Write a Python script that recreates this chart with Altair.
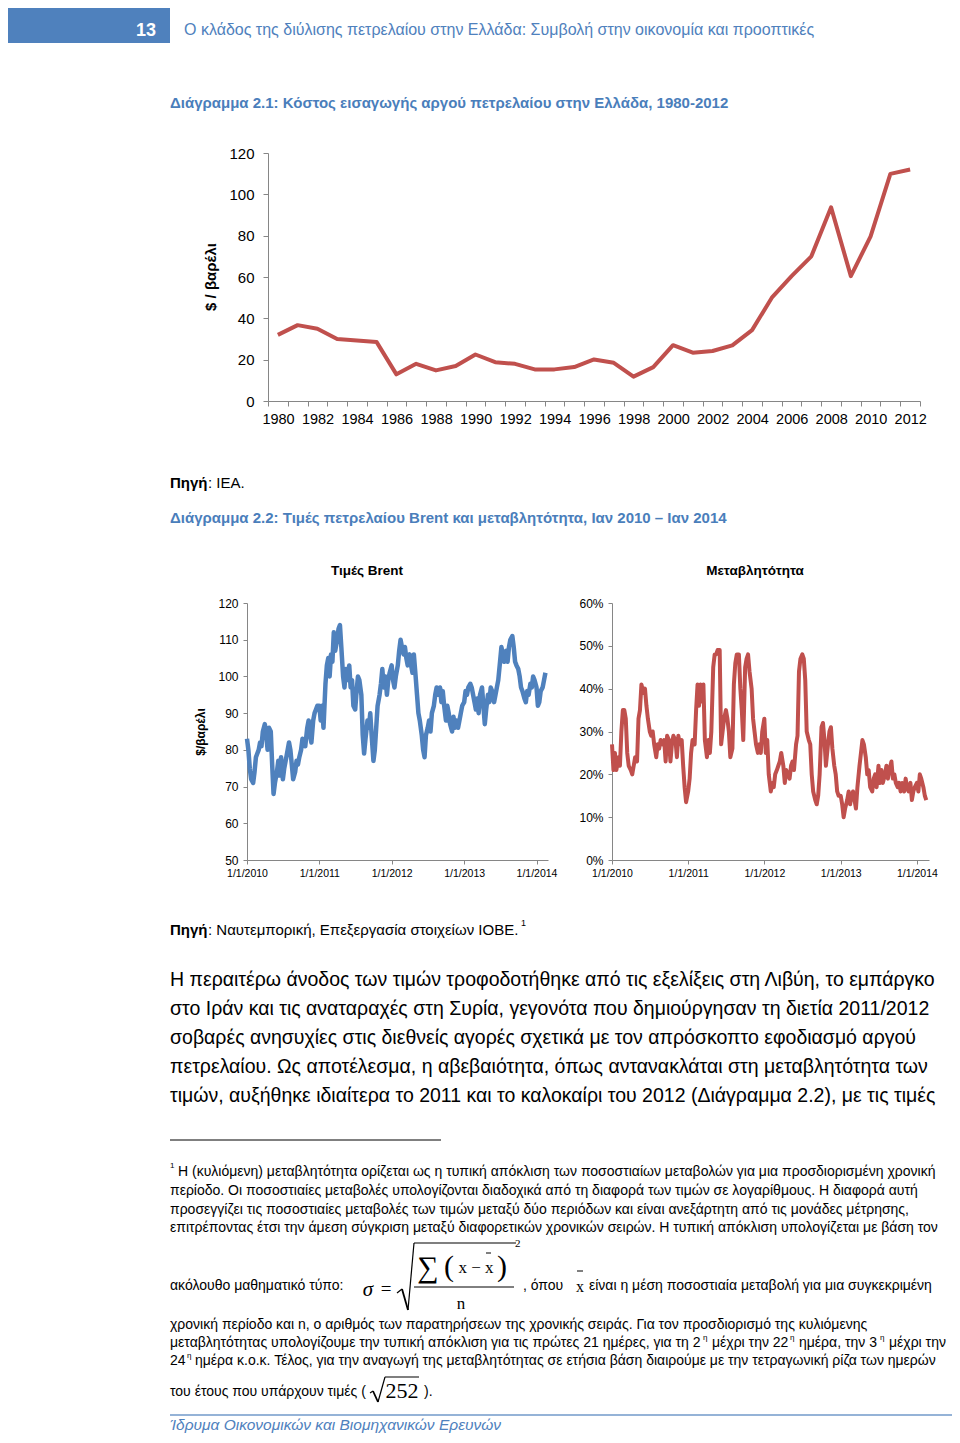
import altair as alt
import pandas as pd

W, H = 944, 1427


def cx(v):
    return v - 8


def cy(v):
    return v - 8


FONT = "Liberation Sans"
SERIF = "Liberation Serif"
BLUE = "#4F81BD"
TBLUE = "#4A7EBB"
RED = "#C0504D"
AXIS = "#868686"

# ---------------- data ----------------
years = list(range(1980, 2013))
import_cost = [32, 36.7, 35, 30, 29.3, 28.5, 12.9, 18, 14.8, 16.9, 22.5, 18.8,
               18, 15.3, 15.3, 16.4, 20.1, 18.5, 11.8, 16.4, 27, 23.4, 24.2,
               26.9, 34.3, 50, 60.4, 70, 93.7, 60.4, 79.7, 109.9, 112]

# Brent price, $/barrel, ~weekly readings, one row per month (Jan 2010 - Feb 2014)
brent = [
    [83, 80, 75, 72], [71, 74, 78, 79], [80, 82, 81, 85], [87, 84, 80, 86],
    [85, 76, 68, 71], [74, 77, 73, 78], [72, 75, 77, 79], [82, 80, 76, 72],
    [74, 77, 76, 78], [80, 83, 82, 81], [86, 88, 84, 82], [88, 90, 91, 92],
    [92, 88, 92, 86], [98, 103, 105, 100], [106, 104, 112, 107], [110, 113, 114, 108],
    [100, 97, 102, 99], [103, 97, 99, 92], [91, 96, 100, 99], [95, 84, 79, 83],
    [88, 86, 90, 84], [77, 80, 86, 92], [95, 98, 102, 97], [100, 95, 99, 101],
    [103, 99, 97, 100], [103, 107, 110, 108], [106, 108, 105, 103], [106, 103, 101, 106],
    [100, 95, 90, 88], [84, 80, 78, 84], [86, 88, 85, 90], [92, 95, 97, 95],
    [97, 93, 96, 92], [88, 92, 90, 87], [85, 89, 86, 88], [86, 88, 90, 92],
    [93, 96, 95, 97], [98, 97, 95, 93], [91, 94, 90, 95], [97, 92, 87, 91],
    [95, 93, 97, 96], [93, 95, 97, 99], [104, 108, 106, 104], [107, 104, 108, 110],
    [111, 108, 104, 103], [102, 100, 97, 96], [94, 93, 96, 95], [98, 97, 100, 99],
    [97, 92, 93, 96], [97, 99, 101],
]

# Rolling volatility, %, one row per month (Jan 2010 - Feb 2014)
volatility = [
    [27, 21, 25, 21], [24, 22, 30, 35], [35, 33, 25, 22], [21, 20, 22, 24],
    [23, 33, 35, 41], [39, 40, 36, 33], [30, 29, 30, 27], [24, 27, 26, 28],
    [27, 28, 23, 29], [28, 23, 27, 29], [28, 24, 29, 27], [28, 22, 17, 13.5],
    [16, 19, 25, 28], [27, 35, 41, 36], [41, 37, 41, 28], [24, 28, 25, 30],
    [45, 48, 48, 49], [49, 27, 30, 33], [35, 33, 30, 24], [26, 41, 46, 48],
    [48, 40, 35, 28], [45, 47, 48, 44], [40, 33, 30, 27], [25, 27, 25, 30],
    [33, 25, 28, 20], [16, 18, 17, 20], [21, 22, 23, 25], [22, 18, 21, 20],
    [19, 22, 23, 21], [27, 29, 44, 47], [48, 47, 42, 30], [28, 27, 20, 16],
    [14, 13, 15, 20], [31, 32, 28, 22], [27, 30, 31, 26], [22, 20, 16, 15],
    [15, 13, 10, 12], [14, 16, 13, 15], [16, 14, 12, 17], [22, 25, 28, 27],
    [24, 20, 21, 17], [16, 19, 20, 17], [22, 18, 21, 18], [20, 22, 19, 21],
    [23, 19, 20, 18], [17, 18, 16, 18], [16, 19, 17, 16], [18, 14, 16, 17],
    [18, 16, 20, 19], [17, 15, 14],
]

y_ticks_1 = [0, 20, 40, 60, 80, 100, 120]
y_ticks_brent = [50, 60, 70, 80, 90, 100, 110, 120]
y_ticks_vol = [0, 10, 20, 30, 40, 50, 60]
tick_years = [2010, 2011, 2012, 2013, 2014]


def monthly_frame(rows, name):
    recs = []
    for m, vals in enumerate(rows):
        yr, mo = 2010 + m // 12, m % 12 + 1
        for i, v in enumerate(vals):
            recs.append({"date": f"{yr}-{mo:02d}-{1 + 7 * i:02d}", name: v})
    return pd.DataFrame(recs)


df1 = pd.DataFrame({"year": years, "cost": import_cost})
df_brent = monthly_frame(brent, "price")
df_vol = monthly_frame(volatility, "vol")


def dt(y, m, d):
    return alt.DateTime(year=y, month=m, date=d, utc=True)


# ---------------- helpers for page text / lines ----------------
def txt(s, x, y, size, color="#000000", weight="normal", style="normal",
        align="left", font=FONT, angle=None, baseline="middle"):
    kw = dict(fontSize=size, color=color, fontWeight=weight, fontStyle=style,
              align=align, baseline=baseline, font=font)
    if angle is not None:
        kw["angle"] = angle
    return alt.Chart(pd.DataFrame({"t": [s]})).mark_text(**kw).encode(
        x=alt.value(cx(x)), y=alt.value(cy(y)), text="t:N")


def rule(x1, y1, x2, y2, color="#000000", width=1.0):
    return alt.Chart(pd.DataFrame({"a": [0]})).mark_rule(
        color=color, strokeWidth=width).encode(
        x=alt.value(cx(x1)), y=alt.value(cy(y1)),
        x2=alt.value(cx(x2)), y2=alt.value(cy(y2)))


layers = []

# header
layers.append(alt.Chart(pd.DataFrame({"a": [0]})).mark_rect(color=BLUE).encode(
    x=alt.value(0), x2=alt.value(cx(170)), y=alt.value(cy(7)), y2=alt.value(cy(43))))
layers.append(txt("13", 146, 31, 18, color="#FFFFFF", weight="bold", align="center"))
layers.append(txt("Ο κλάδος της διύλισης πετρελαίου στην Ελλάδα: Συμβολή στην οικονομία και προοπτικές",
                  184, 30, 16, color=BLUE))

# figure 2.1
layers.append(txt("Διάγραμμα 2.1: Κόστος εισαγωγής αργού πετρελαίου στην Ελλάδα, 1980-2012",
                  170, 103, 15, color=TBLUE, weight="bold"))
layers.append(txt("$ / βαρέλι", 211, 277, 15, weight="bold", angle=270, align="center"))

axis_common = dict(domainColor=AXIS, tickColor=AXIS, labelColor="#000000",
                   labelFont=FONT, grid=False, title=None, labelFlush=False,
                   labelOverlap=False)

chart1 = alt.Chart(df1).mark_line(color=RED, strokeWidth=4, strokeJoin="round").encode(
    x=alt.X("year:Q",
            scale=alt.Scale(domain=[1979.5, 2012.5], range=[cx(268), cx(920)], nice=False, zero=False),
            axis=alt.Axis(orient="bottom", offset=cy(401) - H,
                          values=[1979.5 + i for i in range(34)],
                          labelExpr="(datum.value + 0.5) % 2 == 0 ? toString(datum.value + 0.5) : ''",
                          labelOffset=10, labelFontSize=14.5, labelPadding=6, tickSize=5,
                          **axis_common)),
    y=alt.Y("cost:Q",
            scale=alt.Scale(domain=[0, 120], range=[cy(401), cy(153)], nice=False, zero=False),
            axis=alt.Axis(orient="left", offset=-cx(268), values=y_ticks_1,
                          labelFontSize=15, labelPadding=9, tickSize=5, **axis_common)),
)
layers.append(chart1)

layers.append(txt("Πηγή", 170, 483, 15, weight="bold"))
layers.append(txt(": IEA.", 208, 483, 15))

# figure 2.2
layers.append(txt("Διάγραμμα 2.2: Τιμές πετρελαίου Brent και μεταβλητότητα, Ιαν 2010 – Ιαν 2014",
                  170, 518, 15, color=TBLUE, weight="bold"))
layers.append(txt("Τιμές Brent", 367, 571, 13.5, weight="bold", align="center"))
layers.append(txt("Μεταβλητότητα", 755, 571, 13.5, weight="bold", align="center"))
layers.append(txt("$/βαρέλι", 201, 732, 12, weight="bold", angle=270, align="center"))

x_time_axis = dict(orient="bottom", offset=cy(860) - H,
                   values=[dt(y, 1, 1) for y in tick_years],
                   labelExpr="utcFormat(datum.value, '%-m/%-d/%Y')",
                   labelFontSize=10.5, labelPadding=4, tickSize=4, **axis_common)

chart_brent = alt.Chart(df_brent).mark_line(color=BLUE, strokeWidth=4.5, strokeJoin="round").encode(
    x=alt.X("date:T",
            scale=alt.Scale(type="utc", domain=[dt(2010, 1, 1), dt(2014, 2, 28)],
                            range=[cx(247), cx(548)], nice=False),
            axis=alt.Axis(**x_time_axis)),
    y=alt.Y("price:Q",
            scale=alt.Scale(domain=[50, 120], range=[cy(860), cy(603)], nice=False, zero=False),
            axis=alt.Axis(orient="left", offset=-cx(247), values=y_ticks_brent,
                          labelFontSize=12, labelPadding=5, tickSize=4, **axis_common)),
)
layers.append(chart_brent)

chart_vol = alt.Chart(df_vol).mark_line(color=RED, strokeWidth=4, strokeJoin="round").encode(
    x=alt.X("date:T",
            scale=alt.Scale(type="utc", domain=[dt(2010, 1, 1), dt(2014, 2, 28)],
                            range=[cx(612), cx(929)], nice=False),
            axis=alt.Axis(**x_time_axis)),
    y=alt.Y("vol:Q",
            scale=alt.Scale(domain=[0, 60], range=[cy(860), cy(603)], nice=False, zero=False),
            axis=alt.Axis(orient="left", offset=-cx(612), values=y_ticks_vol,
                          labelExpr="datum.value + '%'",
                          labelFontSize=12, labelPadding=5, tickSize=4, **axis_common)),
)
layers.append(chart_vol)

layers.append(txt("Πηγή", 170, 930, 15, weight="bold"))
layers.append(txt(": Ναυτεμπορική, Επεξεργασία στοιχείων ΙΟΒΕ.", 208, 930, 15))
layers.append(txt("1", 521, 923, 9))

# body paragraph
para = [
    "Η περαιτέρω άνοδος των τιμών τροφοδοτήθηκε από τις εξελίξεις στη Λιβύη, το εμπάργκο",
    "στο Ιράν και τις αναταραχές στη Συρία, γεγονότα που δημιούργησαν τη διετία 2011/2012",
    "σοβαρές ανησυχίες στις διεθνείς αγορές σχετικά με τον απρόσκοπτο εφοδιασμό αργού",
    "πετρελαίου. Ως αποτέλεσμα, η αβεβαιότητα, όπως αντανακλάται στη μεταβλητότητα των",
    "τιμών, αυξήθηκε ιδιαίτερα το 2011 και το καλοκαίρι του 2012 (Διάγραμμα 2.2), με τις τιμές",
]
for i, line in enumerate(para):
    layers.append(txt(line, 170, 980 + 29 * i, 19.5))

# footnote
layers.append(rule(170, 1140, 441, 1140, "#000000", 1))
layers.append(txt("1", 170, 1166, 8))
FN = 14
layers.append(txt("Η (κυλιόμενη) μεταβλητότητα ορίζεται ως η τυπική απόκλιση των ποσοστιαίων μεταβολών για μια προσδιορισμένη χρονική",
                  178, 1172, FN))
layers.append(txt("περίοδο. Οι ποσοστιαίες μεταβολές υπολογίζονται διαδοχικά από τη διαφορά των τιμών σε λογαρίθμους. Η διαφορά αυτή",
                  170, 1191, FN))
layers.append(txt("προσεγγίζει τις ποσοστιαίες μεταβολές των τιμών μεταξύ δύο περιόδων και είναι ανεξάρτητη από τις μονάδες μέτρησης,",
                  170, 1210, FN))
layers.append(txt("επιτρέποντας έτσι την άμεση σύγκριση μεταξύ διαφορετικών χρονικών σειρών. Η τυπική απόκλιση υπολογίζεται με βάση τον",
                  170, 1228, FN))

# formula line
layers.append(txt("ακόλουθο μαθηματικό τύπο:", 170, 1286, FN))
layers.append(txt("σ", 368, 1290, 21, font=SERIF, style="italic", align="center"))
layers.append(txt("=", 386, 1289, 19, font=SERIF, align="center"))
layers.append(rule(397, 1293, 402, 1289, width=1.3))
layers.append(rule(402, 1289, 408, 1310, width=1.8))
layers.append(rule(408, 1310, 414, 1243, width=1.2))
layers.append(rule(414, 1243, 516, 1243, width=1.2))
layers.append(txt("2", 515, 1244, 11, font=SERIF))
layers.append(txt("∑", 428, 1268, 30, font=SERIF, align="center"))
layers.append(txt("(", 449, 1267, 30, font=SERIF, align="center"))
layers.append(txt(")", 502, 1267, 30, font=SERIF, align="center"))
layers.append(txt("x − x", 476, 1268, 17, font=SERIF, align="center"))
layers.append(rule(486, 1253, 491, 1253, width=1))
layers.append(rule(414, 1287, 514, 1287, width=1))
layers.append(txt("n", 461, 1304, 17, font=SERIF, align="center"))
layers.append(txt(", όπου", 523, 1286, FN))
layers.append(txt("x", 580, 1287, 16, font=SERIF, align="center"))
layers.append(rule(577, 1271, 583, 1271, width=1))
layers.append(txt("είναι η μέση ποσοστιαία μεταβολή για μια συγκεκριμένη", 589, 1286, FN))

layers.append(txt("χρονική περίοδο και n, ο αριθμός των παρατηρήσεων της χρονικής σειράς. Για τον προσδιορισμό της κυλιόμενης",
                  170, 1325, FN))
# line with superscripts
layers.append(txt("μεταβλητότητας υπολογίζουμε την τυπική απόκλιση για τις πρώτες 21 ημέρες, για τη 2",
                  170, 1343, FN))
layers.append(txt("η", 703, 1338, 8))
layers.append(txt("μέχρι την 22", 712, 1343, FN))
layers.append(txt("η", 790, 1338, 8))
layers.append(txt("ημέρα, την 3", 799, 1343, FN))
layers.append(txt("η", 880, 1338, 8))
layers.append(txt("μέχρι την", 889, 1343, FN))
layers.append(txt("24", 170, 1361, FN))
layers.append(txt("η", 187, 1356, 8))
layers.append(txt("ημέρα κ.ο.κ. Τέλος, για την αναγωγή της μεταβλητότητας σε ετήσια βάση διαιρούμε με την τετραγωνική ρίζα των ημερών",
                  195, 1361, FN))
layers.append(txt("του έτους που υπάρχουν τιμές (", 170, 1392, FN))
layers.append(rule(370, 1393, 373, 1391, width=1.2))
layers.append(rule(373, 1391, 378, 1402, width=1.8))
layers.append(rule(378, 1402, 385, 1377, width=1.2))
layers.append(rule(385, 1377, 419, 1377, width=1.2))
layers.append(txt("252", 402, 1391, 22, font=SERIF, align="center"))
layers.append(txt(").", 424, 1392, FN))

# footer
layers.append(rule(170, 1415, 957, 1415, "#95B3D7", 2))
layers.append(txt("Ίδρυμα Οικονομικών και Βιομηχανικών Ερευνών", 170, 1425, 15.5,
                  color=BLUE, style="italic"))

chart = alt.layer(*layers).resolve_scale(
    x="independent", y="independent"
).resolve_axis(
    x="independent", y="independent"
).properties(
    width=W, height=H, padding=0,
    autosize=alt.AutoSizeParams(type="none"),
).configure_view(stroke=None)

chart.save("out.html", embed_options={"renderer": "svg", "actions": False})
